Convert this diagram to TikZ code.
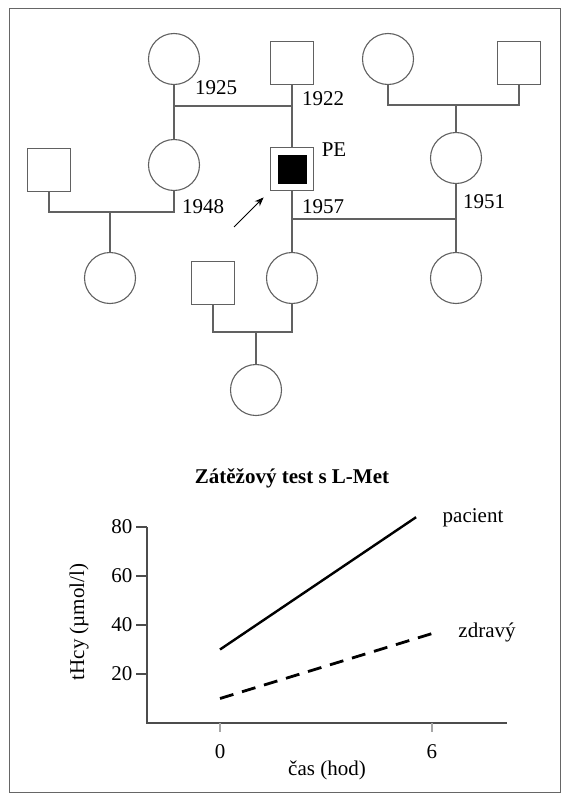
\documentclass[tikz,border=0pt]{standalone}
\usepackage{fontspec}
\setmainfont{Liberation Serif}
\usetikzlibrary{arrows.meta}

\definecolor{pedline}{gray}{0.38}
\definecolor{axisline}{gray}{0.3}
\definecolor{tickline}{gray}{0.65}
\definecolor{framecol}{gray}{0.4}

\begin{document}
\begin{tikzpicture}[x=1pt,y=-1pt,
  female/.style={circle, draw=pedline, line width=1.1pt, minimum size=51pt, inner sep=0pt},
  male/.style={rectangle, draw=pedline, line width=1.1pt, minimum size=43pt, inner sep=0pt},
  ped/.style={draw=pedline, line width=1.1pt},
  lbl/.style={inner sep=0pt, font=\fontsize{21}{23}\selectfont},
  axis/.style={draw=axisline, line width=1.6pt},
]

\useasboundingbox (0,0) rectangle (574,800);
\draw[framecol, line width=1pt] (9,9) rectangle (560,792);

%%%%%%%%%%%%%%%%%%%% Pedigree %%%%%%%%%%%%%%%%%%%%%%%%%%

%female nodes
\foreach \name/\xx/\yy in {f1/174/59, f2/388/59, f3/174/165, f4/456/158, f5/110/278, f6/292/278, f7/456/278, f8/256/390}
{
    \node[female] (\name) at (\xx,\yy) {};
}

%male nodes
\foreach \name/\xx/\yy in {m1/292/63, m2/519/63, m3/49/170, m4/213/283}
{
    \node[male] (\name) at (\xx,\yy) {};
}

%proband
\node[male] (pe) at (292,169) {};
\node[fill=black, minimum size=29pt, inner sep=0pt] (pein) at (pe) {};

%junctions
\coordinate (j1) at (f1 |- 0,106);
\coordinate (j2) at (m1 |- j1);
\coordinate (j3) at (f2 |- 0,105);
\coordinate (j4) at (m2 |- j3);
\coordinate (j5) at (f4 |- j3);
\coordinate (j6) at (m3 |- 0,212);
\coordinate (j7) at (f3 |- j6);
\coordinate (j8) at (f5 |- j6);
\coordinate (j9) at (pe |- 0,219);
\coordinate (j10) at (f4 |- j9);
\coordinate (j11) at (m4 |- 0,332);
\coordinate (j12) at (f6 |- j11);
\coordinate (j13) at (f8 |- j11);

%Draw the lines
\path [ped] (f1) edge (f3);
\path [ped] (m1) edge (pe);
\path [ped] (j1) edge (j2);
\draw [ped] (f2) -- (j3) -- (j4) -- (m2);
\path [ped] (j5) edge (f4);
\draw [ped] (m3) -- (j6) -- (j7) -- (f3);
\path [ped] (j8) edge (f5);
\path [ped] (pe) edge (f6);
\path [ped] (j9) edge (j10);
\path [ped] (f4) edge (f7);
\draw [ped] (m4) -- (j11) -- (j12) -- (f6);
\path [ped] (j13) edge (f8);

%arrow to the proband
\coordinate (arrtail) at (234,227);
\draw[-{Stealth[length=9pt,width=7pt]}, line width=0.9pt, shorten >=9pt] (arrtail) -- (pe.south west);

%years
\node[lbl] (y1925) at (216,88) {1925};
\node[lbl] (y1922) at (323,99) {1922};
\node[lbl] (pelab) at (334,150) {PE};
\node[lbl] (y1948) at (203,207) {1948};
\node[lbl] (y1957) at (323,207) {1957};
\node[lbl] (y1951) at (484,202) {1951};

%%%%%%%%%%%%%%%%%%%% Chart %%%%%%%%%%%%%%%%%%%%%%%%%%

\node[lbl, font=\fontsize{21}{23}\selectfont\bfseries] (title) at (292,478) {Zátěžový test s L-Met};

\begin{scope}[shift={(220,723)}, x=35.33pt, y=2.45pt]
    % axes
    \draw[axis] (-2.066,80) -- (-2.066,0) -- (8.12,0);
    \foreach \v in {20,40,60,80}
    {
        \draw[axis, line width=1.3pt] (-2.066,\v) -- ++(-11pt,0) node[left, lbl, inner sep=3pt] {\v};
    }
    \foreach \h in {0,6}
    {
        \draw[tickline, line width=1.8pt] (\h,0) -- ++(0,-9pt);
        \node[lbl] at ([yshift=-29pt]\h,0) {\h};
    }
    % data
    \draw[line width=2.4pt] (0,30) -- (5.55,84);
    \draw[line width=2.8pt, dash pattern=on 14pt off 9pt] (0,10) -- (6,36.5);
\end{scope}

\node[lbl] (pacient) at (473,518) {pacient};
\node[lbl] (zdravy) at (487,632) {zdravý};
\node[lbl] (xlab) at (327,770) {čas (hod)};
\node[lbl, rotate=90] (ylab) at (79,622) {tHcy (µmol/l)};

\end{tikzpicture}
\end{document}
